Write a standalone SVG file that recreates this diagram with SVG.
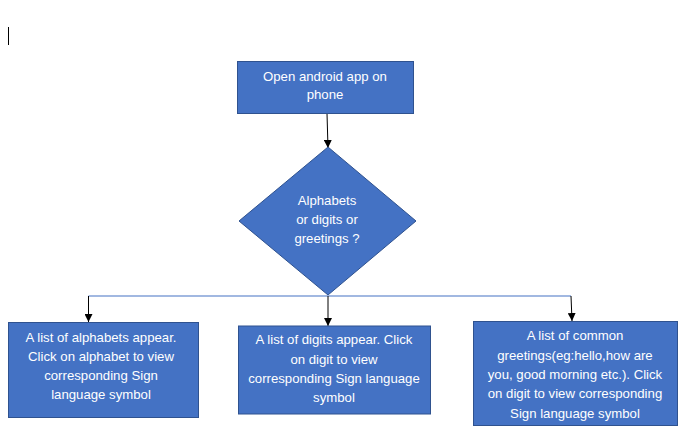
<svg xmlns="http://www.w3.org/2000/svg" width="685" height="442" viewBox="0 0 685 442">
<defs>
<style>
.box{fill:#4472C4;stroke:#2F528F;stroke-width:1}
.t{font-family:"Liberation Sans",Arial,sans-serif;font-size:13.2px;fill:#FFFFFF;text-anchor:middle}
.arr{stroke:#000;stroke-width:1;fill:none;marker-end:url(#ah)}
.bus{stroke:#4472C4;stroke-width:1.2;fill:none}
</style>
<marker id="ah" viewBox="0 0 8 8" refX="8" refY="4" markerWidth="8" markerHeight="8" markerUnits="userSpaceOnUse" orient="auto">
<path d="M0,0 L8,4 L0,8 Z" fill="#000"/>
</marker>
</defs>
<rect width="685" height="442" fill="#FFFFFF"/>
<line x1="8.5" y1="27" x2="8.5" y2="45" stroke="#000" stroke-width="1"/>
<g id="connectors">
<line class="arr" x1="327" y1="113.5" x2="328" y2="148"/>
<polyline class="bus" points="88.5,296 328,296 571,296"/>
<line class="arr" x1="88.5" y1="296" x2="88.5" y2="322"/>
<line class="arr" x1="328" y1="296" x2="328" y2="326"/>
<line class="arr" x1="571" y1="296" x2="572" y2="321"/>
</g>
<g id="start">
<rect class="box" x="237.5" y="61.5" width="176" height="52"/>
<text class="t" x="325" y="80.5">Open android app on</text>
<text class="t" x="325" y="99">phone</text>
</g>
<g id="decision">
<polygon class="box" points="328,147 416,221 328,295 239,221"/>
<text class="t" x="327" y="204.5">Alphabets</text>
<text class="t" x="327" y="223.5">or digits or</text>
<text class="t" x="327" y="242.5">greetings ?</text>
</g>
<g id="alphabets">
<rect class="box" x="8.5" y="322.5" width="190" height="95"/>
<text class="t" x="101" y="341.5">A list of alphabets appear.</text>
<text class="t" x="101" y="361">Click on alphabet to view</text>
<text class="t" x="101" y="380">corresponding Sign</text>
<text class="t" x="101" y="399">language symbol</text>
</g>
<g id="digits">
<rect class="box" x="238.5" y="326" width="192" height="88"/>
<text class="t" x="334" y="344">A list of digits appear. Click</text>
<text class="t" x="334" y="363.5">on digit to view</text>
<text class="t" x="334" y="382.5">corresponding Sign language</text>
<text class="t" x="334" y="401.5">symbol</text>
</g>
<g id="greetings">
<rect class="box" x="473.5" y="321.5" width="204" height="104"/>
<text class="t" x="575" y="340">A list of common</text>
<text class="t" x="575" y="359.5">greetings(eg:hello,how are</text>
<text class="t" x="575" y="379">you, good morning etc.). Click</text>
<text class="t" x="575" y="398">on digit to view corresponding</text>
<text class="t" x="575" y="417.5">Sign language symbol</text>
</g>
</svg>
